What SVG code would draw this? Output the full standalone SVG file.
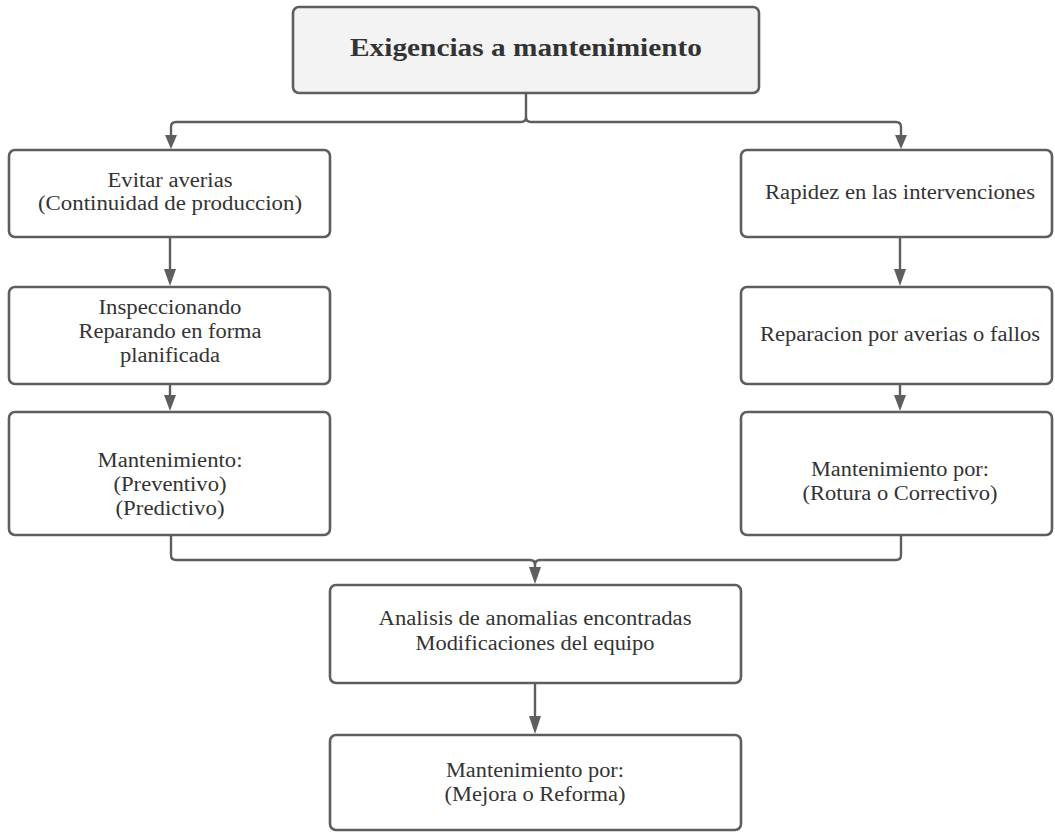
<svg xmlns="http://www.w3.org/2000/svg" width="1055" height="832" viewBox="0 0 1055 832">
  <style>
    .box { fill: #ffffff; stroke: #5e5e5e; stroke-width: 2.6; }
    .root { fill: #f3f3f3; stroke: #5e5e5e; stroke-width: 2.6; }
    .lbl { font-family: "Liberation Serif", "Times New Roman", serif; font-size: 20px; fill: #333333; text-anchor: middle; }
    .ttl { font-family: "Liberation Serif", "Times New Roman", serif; font-size: 26px; font-weight: bold; fill: #333333; text-anchor: middle; }
    .wire { fill: none; stroke: #5e5e5e; stroke-width: 2.4; }
    .head { fill: #5e5e5e; }
  </style>
  <rect width="1055" height="832" fill="#ffffff"/>

  <!-- connectors -->
  <g id="connectors">
    <!-- root splits to both branches -->
    <path class="wire" d="M526,93 V117 Q526,122 521,122 H176 Q171,122 171,127 V140"/>
    <path class="wire" d="M526,117 Q526,122 531,122 H896 Q901,122 901,127 V140"/>
    <!-- left chain -->
    <path class="wire" d="M170,237 V272"/>
    <path class="wire" d="M170,384 V398"/>
    <!-- right chain -->
    <path class="wire" d="M900,237 V272"/>
    <path class="wire" d="M900,384 V398"/>
    <!-- merge into analysis -->
    <path class="wire" d="M171,535 V555 Q171,560 176,560 H530 Q535,560 535,565"/>
    <path class="wire" d="M901,535 V555 Q901,560 896,560 H540 Q535,560 535,565"/>
    <path class="wire" d="M535,565 V572"/>
    <path class="wire" d="M535,683 V720"/>
    <!-- arrowheads -->
    <path class="head" d="M165,135 L177,135 L171,149 Z"/>
    <path class="head" d="M895,135 L907,135 L901,149 Z"/>
    <path class="head" d="M164,269 L176,269 L170,286 Z"/>
    <path class="head" d="M164,395 L176,395 L170,411 Z"/>
    <path class="head" d="M894,269 L906,269 L900,286 Z"/>
    <path class="head" d="M894,395 L906,395 L900,411 Z"/>
    <path class="head" d="M529,567 L541,567 L535,584 Z"/>
    <path class="head" d="M529,716 L541,716 L535,734 Z"/>
  </g>

  <g id="root">
    <rect class="root" x="293" y="7" width="466" height="86" rx="6"/>
    <text class="ttl" x="526" y="56" textLength="352" lengthAdjust="spacingAndGlyphs">Exigencias a mantenimiento</text>
  </g>

  <g id="evitar">
    <rect class="box" x="9" y="150" width="321" height="87" rx="6"/>
    <text class="lbl" x="170" y="187" textLength="125" lengthAdjust="spacingAndGlyphs">Evitar averias</text>
    <text class="lbl" x="170" y="210" textLength="264" lengthAdjust="spacingAndGlyphs">(Continuidad de produccion)</text>
  </g>

  <g id="inspeccionando">
    <rect class="box" x="9" y="287" width="321" height="97" rx="6"/>
    <text class="lbl" x="170" y="314" textLength="143" lengthAdjust="spacingAndGlyphs">Inspeccionando</text>
    <text class="lbl" x="170" y="338" textLength="183" lengthAdjust="spacingAndGlyphs">Reparando en forma</text>
    <text class="lbl" x="170" y="362" textLength="100" lengthAdjust="spacingAndGlyphs">planificada</text>
  </g>

  <g id="mant-prev">
    <rect class="box" x="9" y="412" width="321" height="123" rx="6"/>
    <text class="lbl" x="170" y="467" textLength="145" lengthAdjust="spacingAndGlyphs">Mantenimiento:</text>
    <text class="lbl" x="170" y="491" textLength="113" lengthAdjust="spacingAndGlyphs">(Preventivo)</text>
    <text class="lbl" x="170" y="515" textLength="109" lengthAdjust="spacingAndGlyphs">(Predictivo)</text>
  </g>

  <g id="rapidez">
    <rect class="box" x="741" y="150" width="311" height="87" rx="6"/>
    <text class="lbl" x="900" y="199" textLength="270" lengthAdjust="spacingAndGlyphs">Rapidez en las intervenciones</text>
  </g>

  <g id="reparacion">
    <rect class="box" x="741" y="287" width="311" height="97" rx="6"/>
    <text class="lbl" x="900" y="341" textLength="280" lengthAdjust="spacingAndGlyphs">Reparacion por averias o fallos</text>
  </g>

  <g id="mant-rotura">
    <rect class="box" x="741" y="412" width="311" height="123" rx="6"/>
    <text class="lbl" x="900" y="476" textLength="178" lengthAdjust="spacingAndGlyphs">Mantenimiento por:</text>
    <text class="lbl" x="900" y="500" textLength="195" lengthAdjust="spacingAndGlyphs">(Rotura o Correctivo)</text>
  </g>

  <g id="analisis">
    <rect class="box" x="330" y="585" width="411" height="98" rx="6"/>
    <text class="lbl" x="535" y="625" textLength="313" lengthAdjust="spacingAndGlyphs">Analisis de anomalias encontradas</text>
    <text class="lbl" x="535" y="650" textLength="239" lengthAdjust="spacingAndGlyphs">Modificaciones del equipo</text>
  </g>

  <g id="mant-mejora">
    <rect class="box" x="330" y="735" width="411" height="95" rx="6"/>
    <text class="lbl" x="535" y="777" textLength="178" lengthAdjust="spacingAndGlyphs">Mantenimiento por:</text>
    <text class="lbl" x="535" y="801" textLength="181" lengthAdjust="spacingAndGlyphs">(Mejora o Reforma)</text>
  </g>
</svg>
